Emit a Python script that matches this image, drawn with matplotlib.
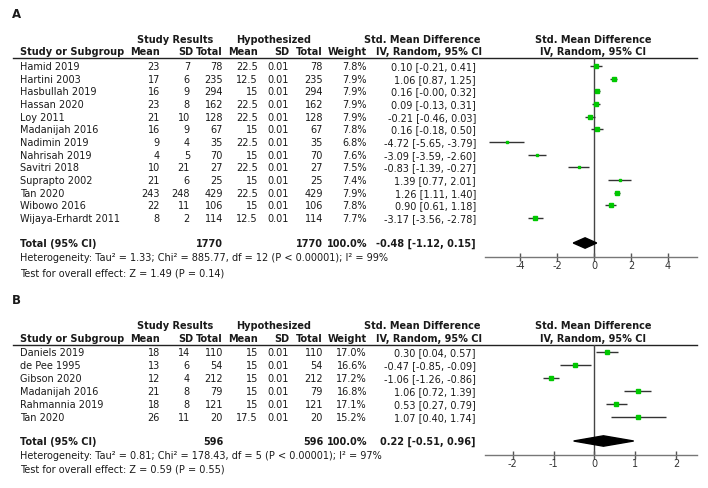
import numpy as np
import matplotlib
matplotlib.use("Agg")
import matplotlib.pyplot as plt
from matplotlib.patches import Polygon

# ---------------- Data: panel A ----------------
a_study = ["Hamid 2019", "Hartini 2003", "Hasbullah 2019", "Hassan 2020", "Loy 2011",
           "Madanijah 2016", "Nadimin 2019", "Nahrisah 2019", "Savitri 2018",
           "Suprapto 2002", "Tan 2020", "Wibowo 2016", "Wijaya-Erhardt 2011"]
a_mean = [23, 17, 16, 23, 21, 16, 9, 4, 10, 21, 243, 22, 8]
a_sd = [7, 6, 9, 8, 10, 9, 4, 5, 21, 6, 248, 11, 2]
a_total = [78, 235, 294, 162, 128, 67, 35, 70, 27, 25, 429, 106, 114]
a_hmean = [22.5, 12.5, 15, 22.5, 22.5, 15, 22.5, 15, 22.5, 15, 22.5, 15, 12.5]
a_hsd = [0.01] * 13
a_htotal = [78, 235, 294, 162, 128, 67, 35, 70, 27, 25, 429, 106, 114]
a_weight = [7.8, 7.9, 7.9, 7.9, 7.9, 7.8, 6.8, 7.6, 7.5, 7.4, 7.9, 7.8, 7.7]
a_smd = [0.10, 1.06, 0.16, 0.09, -0.21, 0.16, -4.72, -3.09, -0.83, 1.39, 1.26, 0.90, -3.17]
a_lo = [-0.21, 0.87, -0.0, -0.13, -0.46, -0.18, -5.65, -3.59, -1.39, 0.77, 1.11, 0.61, -3.56]
a_hi = [0.41, 1.25, 0.32, 0.31, 0.03, 0.50, -3.79, -2.60, -0.27, 2.01, 1.40, 1.18, -2.78]
a_tot = (1770, 1770, 100.0, -0.48, -1.12, 0.15)
a_het = "Heterogeneity: Tau\u00b2 = 1.33; Chi\u00b2 = 885.77, df = 12 (P < 0.00001); I\u00b2 = 99%"
a_test = "Test for overall effect: Z = 1.49 (P = 0.14)"
a_ticks = [-4, -2, 0, 2, 4]

# ---------------- Data: panel B ----------------
b_study = ["Daniels 2019", "de Pee 1995", "Gibson 2020", "Madanijah 2016",
           "Rahmannia 2019", "Tan 2020"]
b_mean = [18, 13, 12, 21, 18, 26]
b_sd = [14, 6, 4, 8, 8, 11]
b_total = [110, 54, 212, 79, 121, 20]
b_hmean = [15, 15, 15, 15, 15, 17.5]
b_hsd = [0.01] * 6
b_htotal = [110, 54, 212, 79, 121, 20]
b_weight = [17.0, 16.6, 17.2, 16.8, 17.1, 15.2]
b_smd = [0.30, -0.47, -1.06, 1.06, 0.53, 1.07]
b_lo = [0.04, -0.85, -1.26, 0.72, 0.27, 0.40]
b_hi = [0.57, -0.09, -0.86, 1.39, 0.79, 1.74]
b_tot = (596, 596, 100.0, 0.22, -0.51, 0.96)
b_het = "Heterogeneity: Tau\u00b2 = 0.81; Chi\u00b2 = 178.43, df = 5 (P < 0.00001); I\u00b2 = 97%"
b_test = "Test for overall effect: Z = 0.59 (P = 0.55)"
b_ticks = [-2, -1, 0, 1, 2]

W, H = 708, 489
fig = plt.figure(figsize=(W / 100, H / 100), dpi=100)
bg = fig.add_axes([0, 0, 1, 1])
bg.set_xlim(0, W)
bg.set_ylim(H, 0)
bg.axis("off")

FS = 7
TXT = "#1a1a1a"
GREEN = "#00c800"


def fax(x0, x1, y0, y1):
    return fig.add_axes([x0 / W, 1 - y1 / H, (x1 - x0) / W, (y1 - y0) / H])


def t(x, y, s, ha="left", bold=False, size=FS):
    bg.text(x, y, s, ha=ha, va="center", fontsize=size, color=TXT,
            fontweight="bold" if bold else "normal")


def panel(label, label_y, h1, h2, line_y, row0, dy, tot_y, het_y, test_y, axis_y,
          xlim, ticks, study, mean, sd, total, hmean, hsd, htotal, weight, smd, lo, hi,
          tot, het, test):
    t(11.5, label_y, label, bold=True, size=8.5)
    # headers
    t(175.5, h1, "Study Results", ha="center", bold=True)
    t(273.5, h1, "Hypothesized", ha="center", bold=True)
    t(422, h1, "Std. Mean Difference", ha="center", bold=True)
    t(593, h1, "Std. Mean Difference", ha="center", bold=True)
    t(20, h2, "Study or Subgroup", bold=True)
    t(160, h2, "Mean", ha="right", bold=True)
    t(193, h2, "SD", ha="right", bold=True)
    t(223, h2, "Total", ha="right", bold=True)
    t(258, h2, "Mean", ha="right", bold=True)
    t(289, h2, "SD", ha="right", bold=True)
    t(323, h2, "Total", ha="right", bold=True)
    t(367, h2, "Weight", ha="right", bold=True)
    t(429, h2, "IV, Random, 95% CI", ha="center", bold=True)
    t(593, h2, "IV, Random, 95% CI", ha="center", bold=True)
    bg.plot([13, 697], [line_y, line_y], color="#222222", lw=1)

    ax = fax(485, 697, line_y, axis_y)
    ax.set_xlim(*xlim)
    ax.set_ylim(axis_y, line_y)
    ax.patch.set_alpha(0)
    for s in ("top", "left", "right"):
        ax.spines[s].set_visible(False)
    ax.spines["bottom"].set_color("#777777")
    ax.spines["bottom"].set_linewidth(1)
    ax.set_yticks([])
    ax.set_xticks(ticks)
    ax.set_xticklabels([str(v) for v in ticks])
    ax.tick_params(axis="x", direction="inout", length=6, width=1, color="#555555",
                   labelsize=FS, labelcolor="#333333", pad=-1)
    ax.axvline(0, color="#444444", lw=1, zorder=1)

    for i in range(len(study)):
        y = row0 + i * dy
        t(20, y, study[i])
        t(160, y, f"{mean[i]:g}", ha="right")
        t(190, y, f"{sd[i]:g}", ha="right")
        t(223, y, f"{total[i]:g}", ha="right")
        t(258, y, f"{hmean[i]:g}", ha="right")
        t(289, y, f"{hsd[i]:.2f}", ha="right")
        t(323, y, f"{htotal[i]:g}", ha="right")
        t(367, y, f"{weight[i]:.1f}%", ha="right")
        t(476, y, f"{smd[i]:.2f} [{lo[i]:.2f}, {hi[i]:.2f}]", ha="right")
        ax.plot([lo[i], hi[i]], [y, y], color="#333333", lw=1, zorder=2,
                solid_capstyle="butt")
        ax.plot(smd[i], y, "s", color=GREEN, mec=GREEN,
                ms=0.78 * np.sqrt(weight[i]), zorder=3)

    n1, n2, wt, est, tlo, thi = tot
    t(20, tot_y, "Total (95% CI)", bold=True)
    t(223, tot_y, f"{n1}", ha="right", bold=True)
    t(323, tot_y, f"{n2}", ha="right", bold=True)
    t(367, tot_y, f"{wt:.1f}%", ha="right", bold=True)
    t(476, tot_y, f"{est:.2f} [{tlo:.2f}, {thi:.2f}]", ha="right", bold=True)
    hh = 5.2
    ax.add_patch(Polygon([(tlo, tot_y), (est, tot_y - hh), (thi, tot_y), (est, tot_y + hh)],
                         closed=True, color="black", zorder=4, clip_on=False))
    t(20, het_y, het)
    t(20, test_y, test)


panel("A", 14, 40, 52, 59, 67, 12.67, 244, 258, 273, 258,
      (-5.89, 5.57), a_ticks, a_study, a_mean, a_sd, a_total, a_hmean, a_hsd,
      a_htotal, a_weight, a_smd, a_lo, a_hi, a_tot, a_het, a_test)

panel("B", 300, 326, 339, 346, 353, 13.0, 442, 456, 469, 456,
      (-2.68, 2.51), b_ticks, b_study, b_mean, b_sd, b_total, b_hmean, b_hsd,
      b_htotal, b_weight, b_smd, b_lo, b_hi, b_tot, b_het, b_test)

fig.savefig("out.png", dpi=100)
